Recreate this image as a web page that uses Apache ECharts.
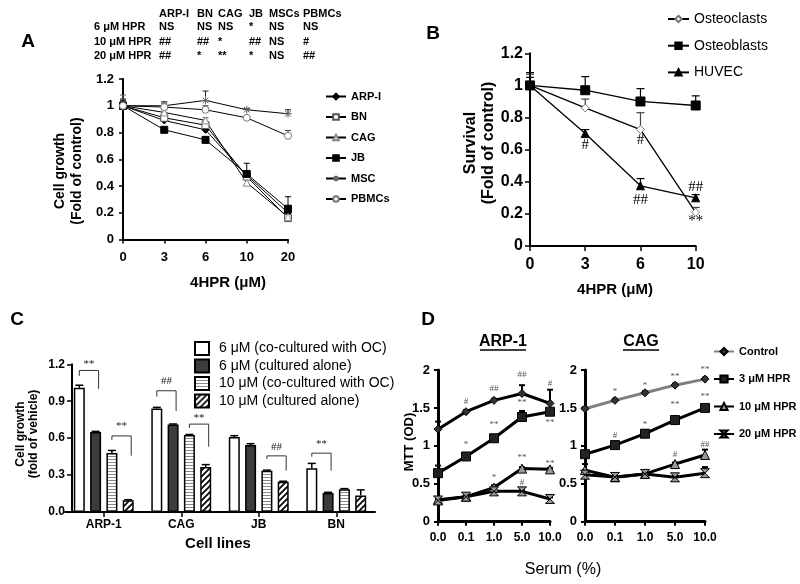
<!DOCTYPE html>
<html><head><meta charset="utf-8">
<script src="https://cdn.jsdelivr.net/npm/echarts@6/dist/echarts.min.js"></script>
<style>html,body{margin:0;padding:0;background:#fff}#c{width:800px;height:584px}</style>
</head><body><div id="c"></div>
<script>
// ---------- Panel A ----------
const doseA = ['0','3','6','10','20'];
const aARP  = [1.0, 0.89, 0.82, 0.48, 0.20];
const aBN   = [1.0, 0.91, 0.855, 0.47, 0.16];
const aCAG  = [1.0, 0.95, 0.89, 0.425, 0.17];
const aJB   = [1.0, 0.82, 0.745, 0.49, 0.23];
const aMSC  = [1.0, 1.0, 1.04, 0.97, 0.94];
const aPBMC = [1.0, 0.99, 0.97, 0.91, 0.775];
const aARPerr  = [0.05, 0.02, 0.02, 0.03, 0.03];
const aBNerr   = [0.03, 0.02, 0.02, 0.04, 0.02];
const aCAGerr  = [0.08, 0.02, 0.02, 0.03, 0.02];
const aJBerr   = [0.03, 0.02, 0.02, 0.08, 0.09];
const aMSCerr  = [0.04, 0.03, 0.07, 0.01, 0.03];
const aPBMCerr = [0.03, 0.03, 0.03, 0.01, 0.04];
const tableCols = ['ARP-I','BN','CAG','JB','MSCs','PBMCs'];
const tableRows = ['6 μM HPR','10 μM HPR','20 μM HPR'];
const tableVals = [
  ['NS','NS','NS','*','NS','NS'],
  ['##','##','*','##','NS','#'],
  ['##','*','**','*','NS','##']
];
// ---------- Panel B ----------
const doseB = ['0','3','6','10'];
const bOC  = [1.0, 0.86, 0.725, 0.21];
const bOB  = [1.0, 0.97, 0.90, 0.875];
const bHUV = [1.0, 0.70, 0.375, 0.30];
const bOCerr  = [0.07, 0.055, 0.105, 0.03];
const bOBerr  = [0.05, 0.085, 0.08, 0.06];
const bHUVerr = [0.08, 0.025, 0.045, 0.02];
const bNotes = [[1,0.63,'#'],[2,0.66,'#'],[2,0.287,'##'],[3,0.37,'##'],[3,0.156,'**']];
// ---------- Panel C ----------
const cellLines = ['ARP-1','CAG','JB','BN'];
const cCo6    = [1.01, 0.84, 0.61, 0.355];
const cAlone6 = [0.65, 0.71, 0.545, 0.155];
const cCo10   = [0.48, 0.625, 0.335, 0.185];
const cAlone10= [0.095, 0.365, 0.245, 0.135];
const cCo6err    = [0.02, 0.01, 0.01, 0.04];
const cAlone6err = [0.005, 0.005, 0.01, 0.005];
const cCo10err   = [0.02, 0.005, 0.005, 0.005];
const cAlone10err= [0.005, 0.02, 0.005, 0.045];
const cNames = ['6 μM (co-cultured with OC)','6 μM (cultured alone)','10 μM (co-cultured with OC)','10 μM (cultured alone)'];
const brCat   = [0, 0, 1, 1, 2, 3];
const brFrom  = [0, 2, 0, 2, 2, 0];
const brTo    = [1, 3, 1, 3, 3, 1];
const brTop   = [1.15, 0.618, 0.985, 0.714, 0.456, 0.478];
const brLeft  = [1.106, 0.586, 0.938, 0.683, 0.431, 0.45];
const brRight = [1.0, 0.458, 0.82, 0.531, 0.336, 0.336];
const brLabel = ['**','**','##','**','##','**'];
const brLabelY= [1.20, 0.70, 1.06, 0.765, 0.53, 0.553];
// ---------- Panel D ----------
const serum = ['0.0','0.1','1.0','5.0','10.0'];
const dNames = ['Control','3 μM HPR','10 μM HPR','20 μM HPR'];
const dArpCtrl = [1.22, 1.45, 1.60, 1.69, 1.56];
const dArp3    = [0.64, 0.86, 1.10, 1.38, 1.45];
const dArp10   = [0.29, 0.33, 0.45, 0.70, 0.69];
const dArp20   = [0.28, 0.33, 0.40, 0.40, 0.30];
const dArpCtrlErr = [0.10, 0.02, 0.02, 0.11, 0.18];
const dArp3Err    = [0.10, 0.02, 0.02, 0.08, 0.03];
const dArp10Err   = [0.03, 0.02, 0.03, 0.02, 0.02];
const dArp20Err   = [0.02, 0.02, 0.02, 0.02, 0.02];
const dCagCtrl = [1.49, 1.60, 1.70, 1.80, 1.88];
const dCag3    = [0.89, 1.01, 1.16, 1.34, 1.50];
const dCag10   = [0.68, 0.585, 0.63, 0.76, 0.88];
const dCag20   = [0.62, 0.59, 0.63, 0.585, 0.64];
const dCagCtrlErr = [0.02, 0.02, 0.02, 0.02, 0.02];
const dCag3Err    = [0.02, 0.02, 0.02, 0.03, 0.02];
const dCag10Err   = [0.08, 0.02, 0.02, 0.02, 0.07];
const dCag20Err   = [0.06, 0.02, 0.02, 0.02, 0.08];
const dArpNotes = [[1,1.58,'#'],[2,1.76,'##'],[3,1.94,'##'],[4,1.82,'#'],[1,1.01,'*'],[2,1.28,'**'],[3,1.57,'**'],[4,1.30,'**'],[2,0.58,'*'],[3,0.84,'**'],[4,0.77,'**'],[3,0.51,'#']];
const dCagNotes = [[1,1.71,'*'],[2,1.80,'*'],[3,1.91,'**'],[4,2.0,'**'],[1,1.14,'#'],[2,1.28,'*'],[3,1.54,'**'],[4,1.65,'**'],[3,0.89,'#'],[4,1.01,'##']];

// ---------- helpers ----------
const FONT = "'Liberation Sans', Arial, sans-serif";
const NARROW = "'Liberation Sans Narrow', 'Liberation Sans', Arial, sans-serif";
const SERIF = "'Liberation Serif', 'Times New Roman', serif";
const ASTER = 'path://M5,0L5,10M0,5L10,5M1.5,1.5L8.5,8.5M8.5,1.5L1.5,8.5';
const HOUR = 'path://M0,0L10,0L0,10L10,10Z';
const BAR_W = 11, BAR_GAP = 5.3, BAR_PITCH = BAR_W + BAR_GAP;

function pattern(kind){
  const c = document.createElement('canvas');
  const g = c.getContext && c.getContext('2d');
  if (kind === 'h') {
    c.width = 4; c.height = 3;
    g.fillStyle = '#fff'; g.fillRect(0,0,4,3);
    g.fillStyle = '#8a8a8a'; g.fillRect(0,0,4,1);
  } else {
    c.width = 6; c.height = 6;
    g.fillStyle = '#fff'; g.fillRect(0,0,6,6);
    g.strokeStyle = '#000'; g.lineWidth = 1.7; g.beginPath();
    g.moveTo(-1,7); g.lineTo(7,-1);
    g.moveTo(-4,4); g.lineTo(4,-4);
    g.moveTo(2,10); g.lineTo(10,2);
    g.stroke();
  }
  return {image: c, repeat: 'repeat'};
}

function lineS(name, ax, data, sym, size, fill, stroke, lw, lineColor){
  return {type:'line', name, xAxisIndex:ax, yAxisIndex:ax, data, symbol:sym, symbolSize:size,
    showAllSymbol:true, z:4,
    lineStyle:{color: lineColor || '#000', width: lw},
    itemStyle:{color: fill, borderColor: stroke, borderWidth: 1}};
}
function errS(ax, means, errs, color, cap, lw){
  return {type:'custom', xAxisIndex:ax, yAxisIndex:ax, silent:true, z:3,
    data: means.map((m,i)=>[i, m, m + errs[i]]),
    renderItem:(p, api)=>{
      const a = api.coord([api.value(0), api.value(1)]);
      const b = api.coord([api.value(0), api.value(2)]);
      const st = {stroke: color, lineWidth: lw};
      return {type:'group', children:[
        {type:'line', shape:{x1:a[0], y1:a[1], x2:b[0], y2:b[1]}, style:st},
        {type:'line', shape:{x1:b[0]-cap, y1:b[1], x2:b[0]+cap, y2:b[1]}, style:st}
      ]};
    }};
}
function barErrS(idx, means, errs){
  return {type:'custom', xAxisIndex:2, yAxisIndex:2, silent:true, z:5,
    data: means.map((m,i)=>[i, m, m + errs[i]]),
    renderItem:(p, api)=>{
      const a = api.coord([api.value(0), api.value(1)]);
      const b = api.coord([api.value(0), api.value(2)]);
      const x = a[0] + (idx - 1.5) * BAR_PITCH;
      const st = {stroke:'#000', lineWidth:1.5};
      return {type:'group', children:[
        {type:'line', shape:{x1:x, y1:a[1], x2:x, y2:b[1]}, style:st},
        {type:'line', shape:{x1:x-4, y1:b[1], x2:x+4, y2:b[1]}, style:st}
      ]};
    }};
}
function notesS(ax, arr, style){
  return {type:'custom', xAxisIndex:ax, yAxisIndex:ax, silent:true, z:10,
    data: arr.map(a=>[a[0], a[1]]),
    renderItem:(p, api)=>{
      const pt = api.coord([api.value(0), api.value(1)]);
      return {type:'text', x:pt[0], y:pt[1],
        style:Object.assign({text: arr[p.dataIndex][2], align:'center', verticalAlign:'middle'}, style)};
    }};
}
function catX(grid, data, boundary, o){
  return {gridIndex:grid, type:'category', data, boundaryGap:boundary,
    axisLine:{show:true, lineStyle:{color:'#000', width:o.lw}},
    axisTick:{show:true, alignWithLabel:true, length:o.tick, lineStyle:{color:'#000', width:o.tw}},
    axisLabel:{color:'#000', fontFamily:FONT, fontWeight:'bold', fontSize:o.fs, margin:o.margin, interval:0},
    splitLine:{show:false}};
}
function valY(grid, max, interval, o){
  return {gridIndex:grid, type:'value', min:0, max, interval, offset:o.offset || 0,
    axisLine:{show:true, lineStyle:{color:'#000', width:o.lw}},
    axisTick:{show:true, length:o.tick, lineStyle:{color:'#000', width:o.tw}},
    axisLabel:{color:'#000', fontFamily:FONT, fontWeight:'bold', fontSize:o.fs, margin:o.margin,
      formatter:o.fmt},
    splitLine:{show:false}};
}
function txt(x, y, text, size, weight, extra, rot){
  const el = {type:'text', x, y, silent:true,
    style:Object.assign({text, fontSize:size, fontWeight:weight, fontFamily:FONT, fill:'#000',
      align:'center', verticalAlign:'middle'}, extra || {})};
  if (rot) el.rotation = rot;
  return el;
}

// ---------- graphics (titles, table) ----------
const graphics = [];
graphics.push(txt(28, 42, 'A', 19, 'bold'));
const colX = [159, 197, 218, 249, 269, 303];
const rowY = [27, 42, 56];
tableCols.forEach((c,i)=>graphics.push(txt(colX[i], 14, c, 11, 'bold', {align:'left'})));
tableRows.forEach((r,j)=>{
  graphics.push(txt(94, rowY[j], r, 11, 'bold', {align:'left'}));
  tableVals[j].forEach((v,i)=>graphics.push(txt(colX[i], rowY[j], v, 11, 'bold', {align:'left'})));
});
graphics.push(txt(69, 171, 'Cell growth\n(Fold of control)', 14, 'bold', {fontFamily:NARROW, lineHeight:17}, Math.PI/2));
graphics.push(txt(228, 283, '4HPR (μM)', 15, 'bold'));
graphics.push(txt(433, 34, 'B', 19, 'bold'));
graphics.push(txt(480, 143, 'Survival\n(Fold of control)', 16, 'bold', {lineHeight:18}, Math.PI/2));
graphics.push(txt(615, 290, '4HPR (μM)', 15, 'bold'));
graphics.push(txt(17, 320, 'C', 19, 'bold'));
graphics.push(txt(27, 434, 'Cell growth\n(fold of vehicle)', 12, 'bold', {fontFamily:NARROW, lineHeight:13}, Math.PI/2));
graphics.push(txt(218, 544, 'Cell lines', 15, 'bold'));
graphics.push(txt(428, 320, 'D', 19, 'bold'));
graphics.push(txt(503, 342, 'ARP-1', 16, 'bold'));
graphics.push({type:'line', silent:true, shape:{x1:480, y1:350, x2:526, y2:350}, style:{stroke:'#000', lineWidth:1.5}});
graphics.push(txt(641, 342, 'CAG', 16, 'bold'));
graphics.push({type:'line', silent:true, shape:{x1:623, y1:350, x2:659, y2:350}, style:{stroke:'#000', lineWidth:1.5}});
graphics.push(txt(409, 442, 'MTT (OD)', 13, 'bold', null, Math.PI/2));
graphics.push(txt(563, 570, 'Serum (%)', 16, 'normal'));

// ---------- series ----------
const series = [];
// A
series.push(
  errS(0, aARP, aARPerr, '#000', 3, 1), errS(0, aBN, aBNerr, '#444', 3, 1),
  errS(0, aCAG, aCAGerr, '#666', 3, 1), errS(0, aJB, aJBerr, '#000', 3, 1),
  errS(0, aMSC, aMSCerr, '#222', 3, 1), errS(0, aPBMC, aPBMCerr, '#444', 3, 1),
  lineS('ARP-I', 0, aARP, 'diamond', 7, '#000', '#000', 1),
  lineS('BN', 0, aBN, 'rect', 7, '#fff', '#555', 1),
  lineS('CAG', 0, aCAG, 'triangle', 7, '#fff', '#888', 1),
  lineS('JB', 0, aJB, 'rect', 7, '#000', '#000', 1),
  lineS('MSC', 0, aMSC, ASTER, 8, '#666', '#666', 1),
  lineS('PBMCs', 0, aPBMC, 'circle', 7, '#fff', '#777', 1)
);
// B
series.push(
  errS(1, bOC, bOCerr, '#444', 4, 1.2), errS(1, bOB, bOBerr, '#000', 4, 1.2), errS(1, bHUV, bHUVerr, '#000', 4, 1.2),
  lineS('Osteoclasts', 1, bOC, 'diamond', 8, '#fff', '#777', 1.3),
  lineS('Osteoblasts', 1, bOB, 'rect', 9, '#000', '#000', 1.3),
  lineS('HUVEC', 1, bHUV, 'triangle', 8, '#000', '#000', 1.3),
  notesS(1, bNotes, {fontFamily:SERIF, fontSize:15, fill:'#000'})
);
// C
const cData = [cCo6, cAlone6, cCo10, cAlone10];
const cErr = [cCo6err, cAlone6err, cCo10err, cAlone10err];
const cFill = ['#fff', '#3c3c3c', pattern('h'), pattern('d')];
cData.forEach((d,i)=>{
  series.push({type:'bar', name:cNames[i], xAxisIndex:2, yAxisIndex:2, data:d,
    barWidth:BAR_W, barGap:(BAR_GAP/BAR_W*100).toFixed(1)+'%', z:2,
    itemStyle:{color:cFill[i], borderColor:'#000', borderWidth:1.5}});
});
cData.forEach((d,i)=>series.push(barErrS(i, d, cErr[i])));
series.push({type:'custom', xAxisIndex:2, yAxisIndex:2, silent:true, z:6,
  data: brCat.map((c,i)=>[c, brTop[i]]),
  renderItem:(p, api)=>{
    const i = p.dataIndex;
    const top = api.coord([brCat[i], brTop[i]]);
    const yl = api.coord([brCat[i], brLeft[i]])[1];
    const yr = api.coord([brCat[i], brRight[i]])[1];
    const yt = api.coord([brCat[i], brLabelY[i]])[1];
    const x1 = top[0] + (brFrom[i]-1.5)*BAR_PITCH;
    const x2 = top[0] + (brTo[i]-1.5)*BAR_PITCH + 3;
    return {type:'group', children:[
      {type:'polyline', shape:{points:[[x1,yl],[x1,top[1]],[x2,top[1]],[x2,yr]]}, style:{stroke:'#333', lineWidth:1, fill:null}},
      {type:'text', x:(x1+x2)/2, y:yt, style:{text:brLabel[i], align:'center', verticalAlign:'middle', fontFamily:SERIF, fontSize:11, fill:'#222'}}
    ]};
  }});
// D (CAG first so legend takes its style)
const dCagSets = [dCagCtrl, dCag3, dCag10, dCag20];
const dCagErrs = [dCagCtrlErr, dCag3Err, dCag10Err, dCag20Err];
const dArpSets = [dArpCtrl, dArp3, dArp10, dArp20];
const dArpErrs = [dArpCtrlErr, dArp3Err, dArp10Err, dArp20Err];
const dSym = ['diamond', 'rect', 'triangle', HOUR];
const dSize = [8, 9, 9, 9];
const dFill = ['#333', '#222', '#999', '#999'];
dCagSets.forEach((d,i)=>series.push(errS(4, d, dCagErrs[i], '#000', 3, 2)));
dArpSets.forEach((d,i)=>series.push(errS(3, d, dArpErrs[i], '#000', 3, 2)));
dCagSets.forEach((d,i)=>series.push(lineS(dNames[i], 4, d, dSym[i], dSize[i], dFill[i], '#000', 3, i===0 ? '#808080' : '#000')));
dArpSets.forEach((d,i)=>series.push(lineS(dNames[i], 3, d, dSym[i], dSize[i], dFill[i], '#000', 3, '#000')));
series.push(notesS(3, dArpNotes, {fontFamily:SERIF, fontSize:9, fill:'#555'}));
series.push(notesS(4, dCagNotes, {fontFamily:SERIF, fontSize:9, fill:'#555'}));

const oA = {lw:2, tick:4, tw:1.5, fs:13, margin:11};
const oB = {lw:2, tick:5, tw:1.5, fs:16, margin:11};
const oC = {lw:2, tick:5, tw:1.5, fs:12, margin:7};
const oD = {lw:3, tick:4, tw:2, fs:12, margin:10};

const option = {
  animation:false,
  backgroundColor:'#fff',
  textStyle:{fontFamily:FONT},
  grid:[
    {left:123, top:79, width:165, height:160.5},
    {left:530, top:53.3, width:165.7, height:192.7},
    {left:65, top:364.3, width:310, height:147.7},
    {left:438, top:370, width:112, height:151.7},
    {left:585, top:370, width:120, height:151.7}
  ].map(g=>Object.assign({outerBoundsMode:'none', containLabel:false}, g)),
  xAxis:[
    catX(0, doseA, false, oA),
    catX(1, doseB, false, oB),
    catX(2, cellLines, true, oC),
    catX(3, serum, false, oD),
    catX(4, serum, false, oD)
  ],
  yAxis:[
    valY(0, 1.2, 0.2, Object.assign({}, oA, {margin:9})),
    valY(1, 1.2, 0.2, Object.assign({}, oB, {margin:7})),
    valY(2, 1.2, 0.3, Object.assign({}, oC, {offset:-7, fmt:v=>v.toFixed(1)})),
    valY(3, 2, 0.5, Object.assign({}, oD, {fs:13, margin:8})),
    valY(4, 2, 0.5, Object.assign({}, oD, {fs:13, margin:8}))
  ],
  legend:[
    {data:['ARP-I','BN','CAG','JB','MSC','PBMCs'], orient:'vertical', left:325, top:91, padding:0,
      itemWidth:20, itemHeight:7, itemGap:9.5, selectedMode:false,
      textStyle:{fontFamily:FONT, fontWeight:'bold', fontSize:11, color:'#000'}},
    {data:['Osteoclasts','Osteoblasts','HUVEC'], orient:'vertical', left:667, top:12, padding:0,
      itemWidth:21, itemHeight:8, itemGap:12.7, selectedMode:false,
      textStyle:{fontFamily:FONT, fontSize:14, color:'#000'}},
    {data:cNames, orient:'vertical', left:194, top:341, padding:0,
      itemWidth:14, itemHeight:13, itemGap:2.5, selectedMode:false, icon:'rect',
      textStyle:{fontFamily:FONT, fontSize:14, color:'#000', padding:[0,0,0,5]}},
    {data:[
        {name:dNames[0], itemStyle:{color:'#333', borderColor:'#000'}, lineStyle:{color:'#808080'}},
        {name:dNames[1]}, {name:dNames[2]}, {name:dNames[3]}],
      orient:'vertical', left:713, top:346, padding:0,
      itemWidth:20, itemHeight:9, itemGap:16.5, selectedMode:false,
      textStyle:{fontFamily:FONT, fontWeight:'bold', fontSize:11, color:'#000'}}
  ],
  graphic:graphics,
  series
};
const chart = echarts.init(document.getElementById('c'), null, {renderer:'canvas'});
chart.setOption(option);
</script>
</body></html>
